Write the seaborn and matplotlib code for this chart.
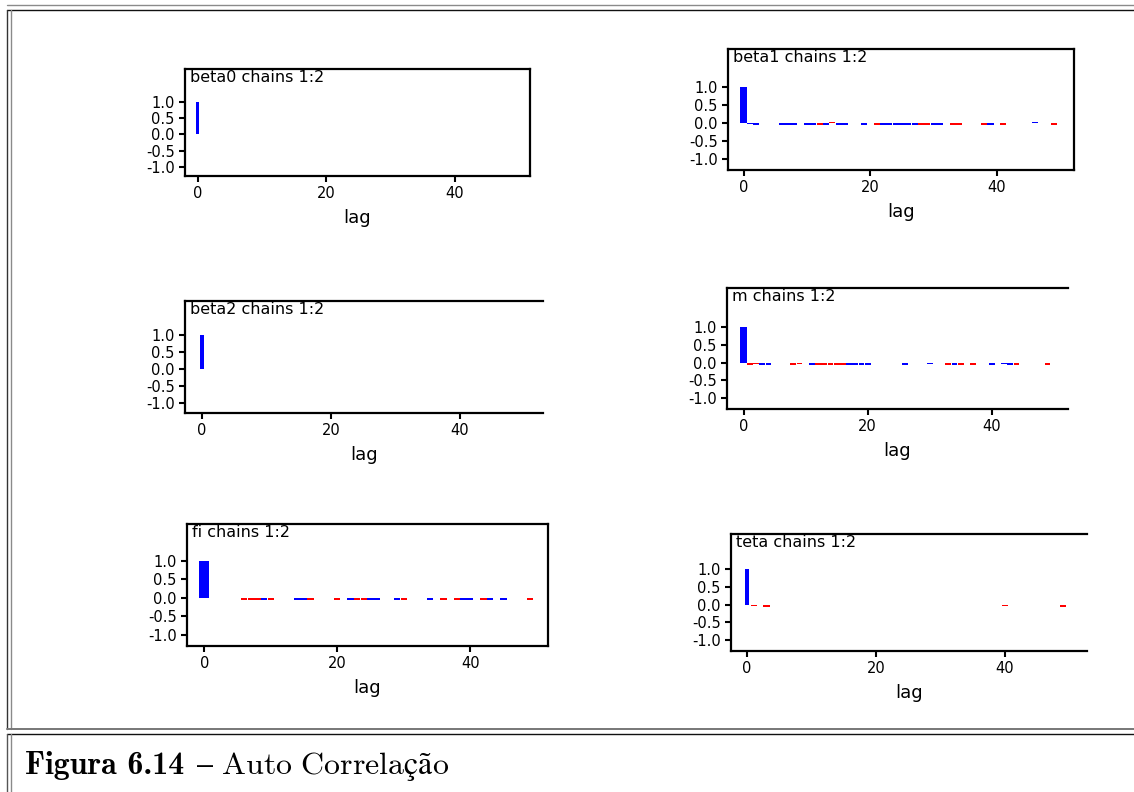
"""
plot.py

WinBUGS style autocorrelation panels (two chains) for six parameters,
framed like a thesis figure with its caption box.
"""

import numpy as np
import pandas as pd
import seaborn as sns
import matplotlib.pyplot as plt
from matplotlib.lines import Line2D

# ---- data (chain 1 = blue, chain 2 = red) ----
params = ["beta0", "beta1", "beta2", "m", "fi", "teta"]
titles = ["beta0 chains 1:2", "beta1 chains 1:2", "beta2 chains 1:2",
          "m chains 1:2", "fi chains 1:2", "teta chains 1:2"]
lag0_acf = [1.0, 1.0, 1.0, 1.0, 1.0, 1.0]

beta1_lags_c1 = [1, 2, 6, 7, 8, 10, 11, 13, 15, 16, 19, 22, 23, 24, 25, 26, 27, 30, 31, 39, 46]
beta1_acf_c1 = [-0.03, -0.06, -0.06, -0.06, -0.06, -0.06, -0.06, -0.06, -0.06, -0.06, -0.06,
                -0.06, -0.06, -0.06, -0.06, -0.06, -0.06, -0.06, -0.06, -0.06, 0.04]
beta1_lags_c2 = [12, 14, 21, 28, 29, 33, 34, 38, 41, 49]
beta1_acf_c2 = [-0.06, 0.04, -0.06, -0.06, -0.05, -0.06, -0.05, -0.06, -0.06, -0.06]

m_lags_c1 = [3, 4, 11, 17, 18, 19, 20, 26, 30, 34, 40, 42, 43]
m_acf_c1 = [-0.06, -0.06, -0.06, -0.06, -0.06, -0.06, -0.06, -0.06, -0.05, -0.06, -0.06, -0.05, -0.06]
m_lags_c2 = [1, 2, 8, 9, 12, 13, 14, 15, 16, 33, 35, 37, 44, 49]
m_acf_c2 = [-0.06, -0.05, -0.06, -0.05, -0.06, -0.06, -0.06, -0.06, -0.06, -0.06, -0.06, -0.06, -0.06, -0.06]

fi_lags_c1 = [9, 14, 15, 22, 25, 26, 29, 34, 39, 40, 43, 45]
fi_acf_c1 = [-0.05, -0.06, -0.05, -0.05, -0.06, -0.06, -0.06, -0.05, -0.06, -0.06, -0.05, -0.06]
fi_lags_c2 = [6, 7, 8, 10, 16, 20, 23, 24, 30, 36, 38, 42, 49]
fi_acf_c2 = [-0.06, -0.06, -0.06, -0.05, -0.06, -0.06, -0.06, -0.06, -0.06, -0.06, -0.06, -0.06, -0.06]

teta_lags_c2 = [1, 3, 40, 49]
teta_acf_c2 = [-0.04, -0.06, -0.04, -0.06]

dashes = {
    "beta0": ([], [], [], []),
    "beta1": (beta1_lags_c1, beta1_acf_c1, beta1_lags_c2, beta1_acf_c2),
    "beta2": ([], [], [], []),
    "m": (m_lags_c1, m_acf_c1, m_lags_c2, m_acf_c2),
    "fi": (fi_lags_c1, fi_acf_c1, fi_lags_c2, fi_acf_c2),
    "teta": ([], [], teta_lags_c2, teta_acf_c2),
}

caption_bold = "Figura 6.14"
caption_rest = "– Auto Correlação"

# ---- layout (pixel boxes in the 1134x792 picture) ----
W, H = 1134, 792
boxes = [(185, 69, 530, 176), (728, 49, 1074, 170), (185, 301, 543, 413),
         (727, 288, 1068, 409), (187, 524, 548, 646), (731, 534, 1087, 651)]
xlims = [(-2.0, 51.7), (-2.5, 52.2), (-2.6, 52.9), (-2.7, 52.3), (-2.6, 51.7), (-2.5, 52.7)]
ylims = [(-1.28, 2.02), (-1.31, 2.06), (-1.29, 2.0), (-1.31, 2.1), (-1.3, 2.0), (-1.31, 1.99)]
right_spine = [True, True, False, False, True, False]
lag0_width = [0.5, 1.1, 0.55, 1.1, 1.5, 0.55]
chain_colors = {"1": "#0000ff", "2": "#ff0000"}

sns.set_style("ticks", {"text.color": "black", "xtick.color": "black", "ytick.color": "black",
                        "axes.labelcolor": "black", "axes.edgecolor": "black"})
plt.rcParams["font.family"] = ["DejaVu Sans"]
plt.rcParams["axes.unicode_minus"] = False
plt.rcParams["mathtext.fontset"] = "cm"

fig = plt.figure(figsize=(W / 100, H / 100), dpi=100)

for i, p in enumerate(params):
    x0, y0, x1, y1 = boxes[i]
    ax = fig.add_axes([x0 / W, 1 - y1 / H, (x1 - x0) / W, (y1 - y0) / H])

    # lag 0 bar, both chains (blue drawn on top)
    df0 = pd.DataFrame({"lag": [0, 0], "acf": [lag0_acf[i], lag0_acf[i]], "chain": ["2", "1"]})
    sns.barplot(data=df0, x="lag", y="acf", hue="chain", hue_order=["2", "1"],
                palette=chain_colors, native_scale=True, dodge=False, width=lag0_width[i],
                errorbar=None, saturation=1, linewidth=0, legend=False, ax=ax)

    # small autocorrelations at the other lags
    l1, v1, l2, v2 = dashes[p]
    if l1 or l2:
        full = np.arange(1, 51)
        frames = []
        for ch, lg, vals in [("2", l2, v2), ("1", l1, v1)]:
            s = pd.Series(vals, index=lg, dtype=float).reindex(full, fill_value=0.0)
            frames.append(pd.DataFrame({"lag": full, "acf": s.values, "chain": ch}))
        dfl = pd.concat(frames, ignore_index=True)
        sns.barplot(data=dfl, x="lag", y="acf", hue="chain", hue_order=["2", "1"],
                    palette=chain_colors, native_scale=True, dodge=False, width=0.95,
                    errorbar=None, saturation=1, linewidth=0, legend=False, ax=ax)

    ax.set_xlim(xlims[i])
    ax.set_ylim(ylims[i])
    ax.set_xticks([0, 20, 40])
    ax.set_xticklabels(["0", "20", "40"])
    ax.set_yticks([-1.0, -0.5, 0.0, 0.5, 1.0])
    ax.set_yticklabels(["-1.0", "-0.5", "0.0", "0.5", "1.0"])
    ax.tick_params(direction="out", length=4, width=1.5, labelsize=10.5, color="black", pad=3.5)
    ax.tick_params(axis="x", pad=3)
    ax.set_xlabel("lag", fontsize=13, labelpad=6)
    ax.set_ylabel("")
    for side in ["left", "bottom", "top", "right"]:
        ax.spines[side].set_linewidth(1.6)
    ax.spines["right"].set_visible(right_spine[i])
    ax.text(0.015, 0.99, titles[i], transform=ax.transAxes, ha="left", va="top", fontsize=11.5)

# ---- frame and caption box ----
def fline(xs, ys, color, lw=1.0):
    fig.add_artist(Line2D([x / W for x in xs], [1 - y / H for y in ys], color=color, lw=lw))

fline([7, W], [5, 5], "#8a8a8a")
fline([7, W], [10, 10], "#111111")
fline([7, 7], [10, 729], "#333333")
fline([11, 11], [10, 729], "#8a8a8a")
fline([7, W], [729, 729], "#777777", 1.4)
fline([7, W], [734, 734], "#111111")
fline([7, 7], [734, H], "#555555")
fline([11, 11], [734, H], "#8a8a8a")

t1 = fig.text(25 / W, 1 - 774 / H, caption_bold, fontsize=23, family="cmb10",
              ha="left", va="baseline")
renderer = fig.canvas.get_renderer()
bb = t1.get_window_extent(renderer)
fig.text(bb.x1 / W + 12 / W, 1 - 774 / H, r"$\mathrm{" + caption_rest.replace(" ", r"\ ") + "}$",
         fontsize=23, ha="left", va="baseline")

fig.savefig("out.png", dpi=100)
